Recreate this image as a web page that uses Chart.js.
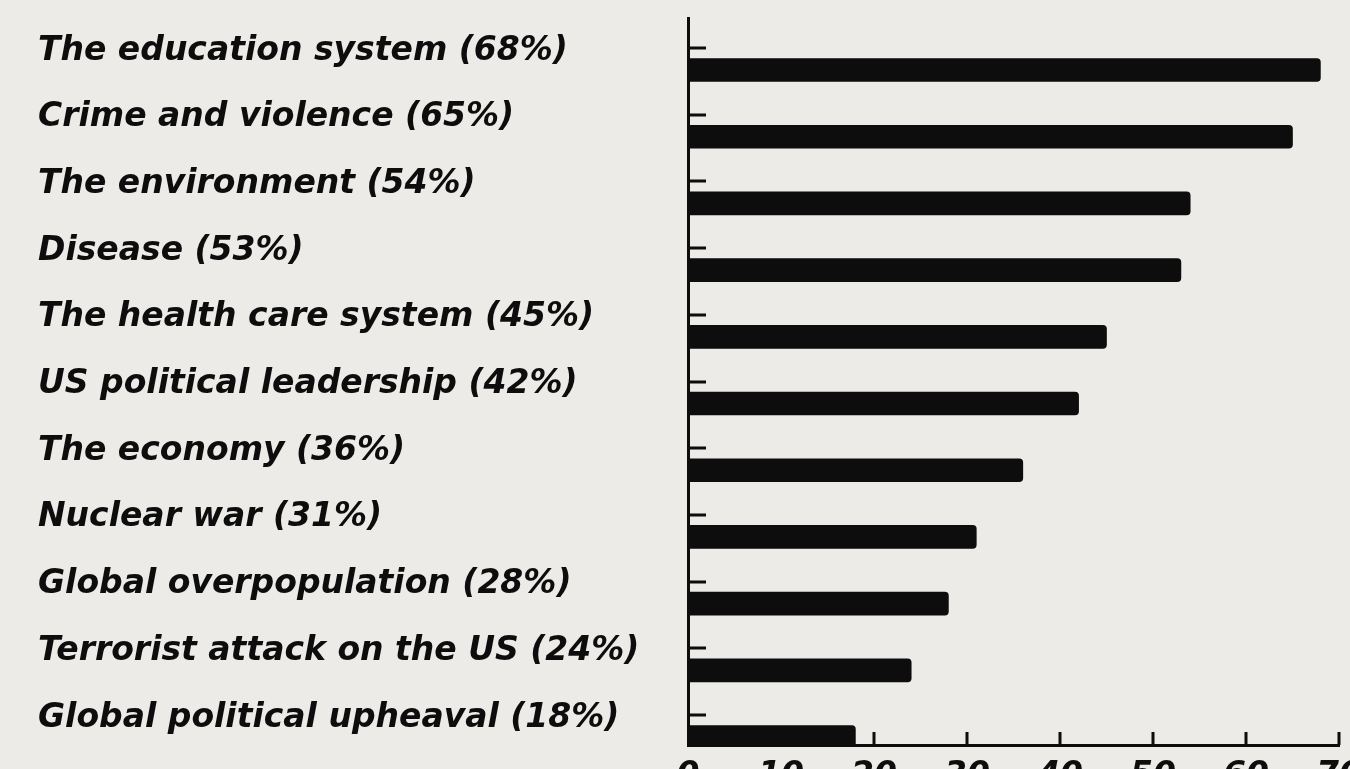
<!DOCTYPE html>
<html>
<head>
<meta charset="utf-8">
<script src="https://cdn.jsdelivr.net/npm/chart.js@4/dist/chart.umd.min.js"></script>
<style>
  html, body { margin: 0; padding: 0; background: #ecebe8; }
  #wrap { width: 1350px; height: 769px; position: relative; }
</style>
</head>
<body>
<div id="wrap"><canvas id="chart"></canvas></div>
<script>
// survey answers, top to bottom
var categories = [
  'The education system (68%)',
  'Crime and violence (65%)',
  'The environment (54%)',
  'Disease (53%)',
  'The health care system (45%)',
  'US political leadership (42%)',
  'The economy (36%)',
  'Nuclear war (31%)',
  'Global overpopulation (28%)',
  'Terrorist attack on the US (24%)',
  'Global political upheaval (18%)'
];
var percents = [68, 65, 54, 53, 45, 42, 36, 31, 28, 24, 18];
var xTicks = [0, 10, 20, 30, 40, 50, 60, 70];

var ink = '#0d0d0d';
var labelFont = { family: 'DejaVu Sans', size: 33, weight: 'bold', style: 'italic' };

// little inward tick marks, like the printed original
var inwardTicks = {
  id: 'inwardTicks',
  afterDatasetsDraw: function(chart) {
    var ctx = chart.ctx;
    var xs = chart.scales.x, ys = chart.scales.y;
    var area = chart.chartArea;
    ctx.save();
    ctx.strokeStyle = ink;
    ctx.lineWidth = 3;
    ctx.beginPath();
    categories.forEach(function(c, i) {
      var py = Math.round(ys.getPixelForValue(i)) - 22;
      ctx.moveTo(area.left, py);
      ctx.lineTo(area.left + 18, py);
    });
    xTicks.forEach(function(v) {
      if (v === 0) return;
      var px = Math.round(xs.getPixelForValue(v));
      ctx.moveTo(px, area.bottom);
      ctx.lineTo(px, area.bottom - 13);
    });
    ctx.stroke();
    ctx.restore();
  }
};

var ctx = document.getElementById('chart').getContext('2d');
var chart = new Chart(ctx, {
  type: 'bar',
  data: {
    datasets: [{
      data: percents.map(function(v, i) { return { x: v, y: i }; }),
      backgroundColor: ink,
      borderWidth: 0,
      borderRadius: 4,
      borderSkipped: 'start',
      barThickness: 23
    }]
  },
  options: {
    indexAxis: 'y',
    responsive: true,
    maintainAspectRatio: false,
    animation: false,
    layout: { padding: { left: 38, right: 11, top: 18, bottom: 0 } },
    plugins: { legend: { display: false }, tooltip: { enabled: false } },
    scales: {
      x: {
        type: 'linear',
        min: 0,
        max: 70,
        grid: { display: false, drawTicks: false },
        border: { display: true, color: ink, width: 3 },
        ticks: {
          stepSize: 10,
          color: ink,
          font: labelFont,
          padding: 12,
          maxRotation: 0
        },
        afterFit: function(scale) {
          scale.height = 24;
          scale.paddingLeft = 0;
          scale.paddingRight = 0;
        }
      },
      y: {
        type: 'linear',
        reverse: true,
        offset: false,
        min: -0.78,
        max: 10.12,
        grid: { display: false, drawTicks: false },
        border: { display: true, color: ink, width: 3 },
        afterBuildTicks: function(scale) {
          scale.ticks = categories.map(function(c, i) { return { value: i }; });
        },
        ticks: {
          color: ink,
          font: labelFont,
          crossAlign: 'far',
          labelOffset: -19,
          autoSkip: false,
          callback: function(value) { return categories[value]; }
        },
        afterFit: function(scale) {
          scale.width = 650;
          scale.paddingTop = 0;
          scale.paddingBottom = 0;
        }
      }
    }
  },
  plugins: [inwardTicks]
});
</script>
</body>
</html>
